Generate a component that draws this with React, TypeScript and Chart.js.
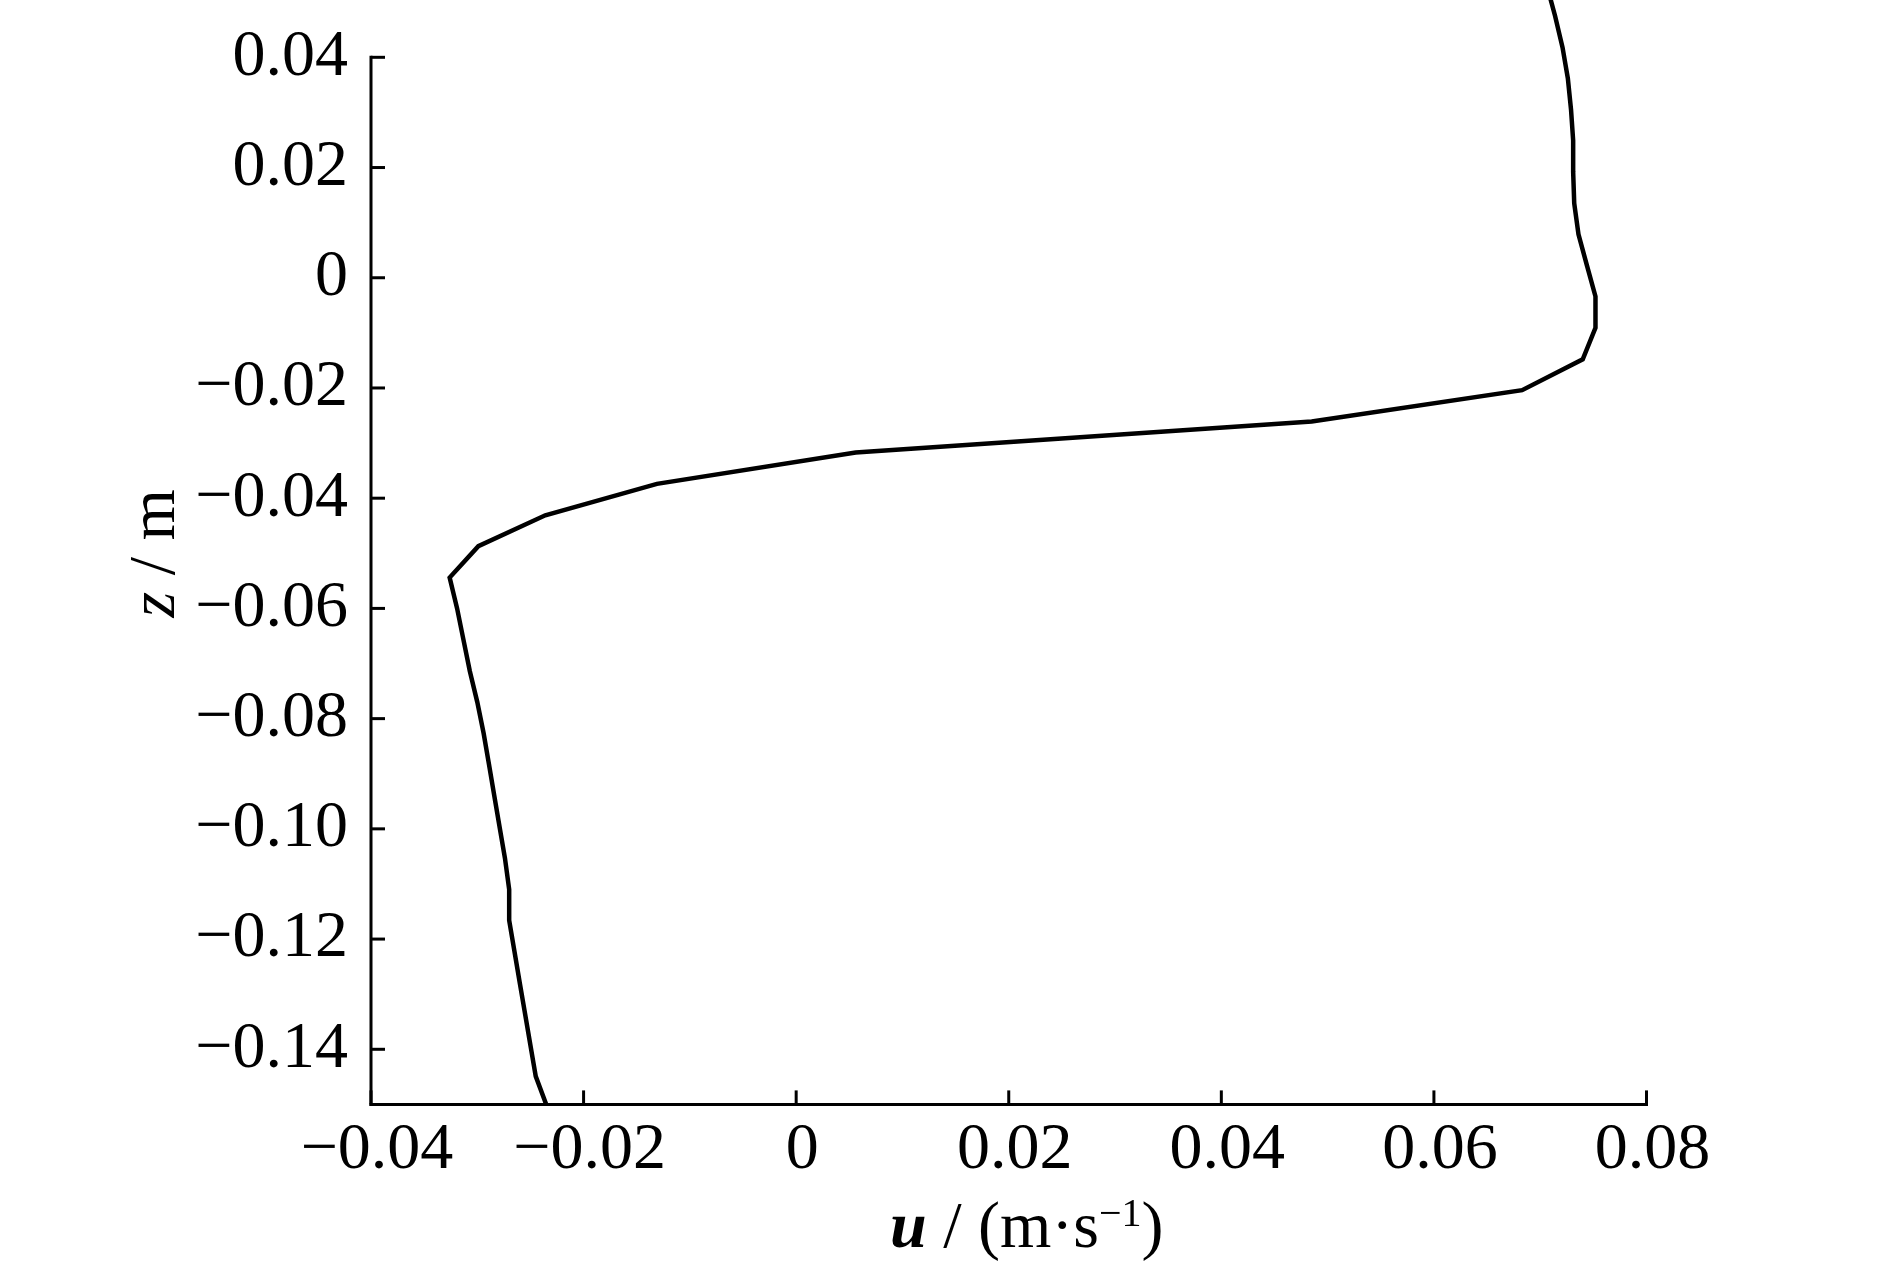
import React, { useEffect, useRef } from "react";
import { Chart, registerables } from "chart.js";

Chart.register(...registerables);

// Velocity profile: depth levels z (m) and horizontal velocity u (m/s)
const zLevels = [
  0.0532, 0.0475, 0.0418, 0.0362, 0.0305, 0.0249, 0.0192, 0.0135, 0.0079, 0.0022,
  -0.0034, -0.0091, -0.0148, -0.0204, -0.0261, -0.0317, -0.0374, -0.0431, -0.0487, -0.0544,
  -0.06, -0.0657, -0.0714, -0.077, -0.0827, -0.0883, -0.094, -0.0997, -0.1053, -0.111,
  -0.1166, -0.1223, -0.128, -0.1336, -0.1393, -0.1449, -0.1506,
];
const uValues = [
  0.0706, 0.0714, 0.0721, 0.0726, 0.0729, 0.0731, 0.0731, 0.0732, 0.0736, 0.0744,
  0.0752, 0.0752, 0.074, 0.0683, 0.0485, 0.0056, -0.0131, -0.0236, -0.0299, -0.0326,
  -0.0319, -0.0313, -0.0307, -0.03, -0.0294, -0.0289, -0.0284, -0.0279, -0.0274, -0.027,
  -0.027, -0.0265, -0.026, -0.0255, -0.025, -0.0245, -0.0234,
];
const xTicks = [-0.04, -0.02, 0, 0.02, 0.04, 0.06, 0.08];
const yTicks = [0.04, 0.02, 0, -0.02, -0.04, -0.06, -0.08, -0.1, -0.12, -0.14];

const FONT = '"Liberation Serif", "Times New Roman", serif';
const FS = 66;

function fmt(v: number): string {
  if (Math.abs(v) < 1e-12) return "0";
  return (v < 0 ? "\u2212" : "") + Math.abs(v).toFixed(2);
}

const axesPlugin = {
  id: "customAxes",
  afterDraw(chart: any) {
    const { ctx, chartArea, scales } = chart;
    const xs = scales.x;
    const ys = scales.y;
    const left = chartArea.left;
    const bottom = chartArea.bottom;
    ctx.save();
    ctx.strokeStyle = "#000";
    ctx.lineWidth = 3;
    ctx.lineCap = "butt";
    // y axis line (from 0.04 down to the bottom)
    const yTop = ys.getPixelForValue(0.04);
    ctx.beginPath();
    ctx.moveTo(left, yTop - 1.5);
    ctx.lineTo(left, bottom + 1.5);
    ctx.stroke();
    // x axis line
    ctx.beginPath();
    ctx.moveTo(left - 1.5, bottom);
    ctx.lineTo(xs.getPixelForValue(0.08) + 1.5, bottom);
    ctx.stroke();
    // inward ticks
    for (const v of yTicks) {
      const p = ys.getPixelForValue(v);
      ctx.beginPath();
      ctx.moveTo(left, p);
      ctx.lineTo(left + 14, p);
      ctx.stroke();
    }
    for (const v of xTicks) {
      const p = xs.getPixelForValue(v);
      ctx.beginPath();
      ctx.moveTo(p, bottom);
      ctx.lineTo(p, bottom - 14);
      ctx.stroke();
    }

    ctx.fillStyle = "#000";
    ctx.textBaseline = "alphabetic";
    ctx.textAlign = "left";
    // x title: u / (m·s^-1)
    const parts: { t: string; f: string; dy: number }[] = [
      { t: "u", f: `bold italic ${FS}px ${FONT}`, dy: 0 },
      { t: " / (m\u00b7s", f: `${FS}px ${FONT}`, dy: 0 },
      { t: "\u22121", f: `${Math.round(FS * 0.6)}px ${FONT}`, dy: -21 },
      { t: ")", f: `${FS}px ${FONT}`, dy: 0 },
    ];
    let total = 0;
    const widths: number[] = [];
    for (const p of parts) {
      ctx.font = p.f;
      const w = ctx.measureText(p.t).width;
      widths.push(w);
      total += w;
    }
    const cx = (chartArea.left + chartArea.right) / 2 + 18;
    let x = cx - total / 2;
    const base = 1246.5;
    parts.forEach((p, i) => {
      ctx.font = p.f;
      ctx.fillText(p.t, x, base + p.dy);
      x += widths[i];
    });

    // y title: z / m (rotated)
    const yParts = [
      { t: "z", f: `italic ${FS}px ${FONT}` },
      { t: " / m", f: `${FS}px ${FONT}` },
    ];
    let ytotal = 0;
    const yw: number[] = [];
    for (const p of yParts) {
      ctx.font = p.f;
      const w = ctx.measureText(p.t).width;
      yw.push(w);
      ytotal += w;
    }
    const cy = (ys.getPixelForValue(0.05) + bottom) / 2;
    ctx.translate(173.5, cy);
    ctx.rotate(-Math.PI / 2);
    let xx = -ytotal / 2;
    yParts.forEach((p, i) => {
      ctx.font = p.f;
      ctx.fillText(p.t, xx, 0);
      xx += yw[i];
    });
    ctx.restore();
  },
};

export default function App() {
  const ref = useRef<HTMLCanvasElement | null>(null);
  useEffect(() => {
    let chart: Chart | null = null;
    let cancelled = false;
    const make = () => {
      if (cancelled || !ref.current) return;
      const data = zLevels.map((z, i) => ({ x: uValues[i], y: z }));
      chart = new Chart(ref.current, {
        type: "scatter",
        data: {
          datasets: [
            {
              data,
              showLine: true,
              borderColor: "#000",
              backgroundColor: "#000",
              borderWidth: 4.5,
              pointRadius: 0,
              tension: 0,
            } as any,
          ],
        },
        options: {
          animation: false,
          responsive: false,
          devicePixelRatio: 1,
          events: [],
          layout: { padding: { left: 0, right: 243.5, top: 0, bottom: 0 } },
          plugins: { legend: { display: false }, tooltip: { enabled: false }, title: { display: false } },
          scales: {
            x: {
              type: "linear",
              position: "bottom",
              min: -0.04,
              max: 0.08,
              grid: { display: false, drawTicks: false },
              border: { display: false },
              ticks: {
                color: "#000",
                font: { family: FONT, size: FS },
                padding: 7,
                labelOffset: 6,
                maxRotation: 0,
                autoSkip: false,
                callback: (v: any) => fmt(Number(v)),
              },
              afterBuildTicks: (s: any) => {
                s.ticks = xTicks.map((v) => ({ value: v }));
              },
              afterFit: (s: any) => {
                s.height = 163.6;
                s.paddingLeft = 0;
                s.paddingRight = 0;
              },
            },
            y: {
              type: "linear",
              position: "left",
              min: -0.15,
              max: 0.0504,
              grid: { display: false, drawTicks: false },
              border: { display: false },
              ticks: {
                color: "#000",
                font: { family: FONT, size: FS },
                padding: 23,
                autoSkip: false,
                callback: (v: any) => fmt(Number(v)),
              },
              afterBuildTicks: (s: any) => {
                s.ticks = yTicks.map((v) => ({ value: v }));
              },
              afterFit: (s: any) => {
                s.width = 371;
                s.paddingTop = 0;
                s.paddingBottom = 0;
              },
            },
          },
        } as any,
        plugins: [axesPlugin],
      });
    };
    const fontsApi = (document as any).fonts;
    if (fontsApi && fontsApi.load) {
      Promise.all([
        fontsApi.load(`${FS}px "Liberation Serif"`),
        fontsApi.load(`italic ${FS}px "Liberation Serif"`),
        fontsApi.load(`bold italic ${FS}px "Liberation Serif"`),
      ])
        .catch(() => {})
        .then(make);
    } else {
      make();
    }
    return () => {
      cancelled = true;
      if (chart) chart.destroy();
    };
  }, []);
  return (
    <canvas
      ref={ref}
      width={1890}
      height={1268}
      style={{ position: "fixed", left: 0, top: 0, width: 1890, height: 1268, background: "#fff" }}
    />
  );
}
